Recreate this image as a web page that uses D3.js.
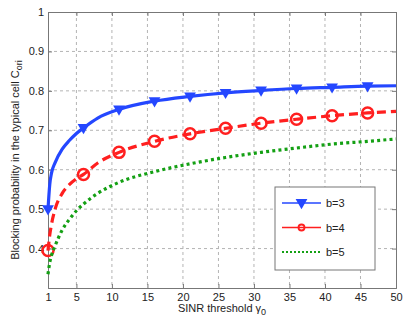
<!DOCTYPE html>
<html>
<head>
<meta charset="utf-8">
<script src="https://cdn.jsdelivr.net/npm/d3@7"></script>
<style>
  body { margin: 0; background: #fff; }
  text { font-family: "Liberation Sans", Arial, sans-serif; fill: #222; }
</style>
</head>
<body>
<svg id="chart" width="409" height="324"></svg>
<script>
'use strict';

// SINR threshold sample points
var gammas = [1, 1.25, 1.5, 2, 3, 4, 5, 6, 8, 11, 16, 21, 26, 31, 36, 41, 46, 50];
var markerGammas = [1, 6, 11, 16, 21, 26, 31, 36, 41, 46];

var b3 = [0.500, 0.563, 0.592, 0.618, 0.652, 0.674, 0.692, 0.706, 0.731, 0.753,
          0.774, 0.786, 0.795, 0.801, 0.806, 0.809, 0.812, 0.813];
var b4 = [0.395, 0.435, 0.462, 0.500, 0.540, 0.562, 0.577, 0.588, 0.617, 0.644,
          0.672, 0.691, 0.705, 0.718, 0.728, 0.737, 0.744, 0.748];
var b5 = [0.335, 0.365, 0.383, 0.407, 0.447, 0.474, 0.496, 0.513, 0.540, 0.568,
          0.595, 0.615, 0.631, 0.644, 0.655, 0.665, 0.672, 0.678];

var xTicks = [1, 5, 10, 15, 20, 25, 30, 35, 40, 45, 50];
var yTicks = [0.4, 0.5, 0.6, 0.7, 0.8, 0.9, 1];
var legendLabels = ['b=3', 'b=4', 'b=5'];

(function() {
  var svg = d3.select('#chart');
  var left = 48, right = 396, plotTop = 12, bottom = 288;

  var x = d3.scaleLinear().domain([1, 50]).range([left, right]);
  var y = d3.scaleLinear().domain([0.3, 1]).range([bottom, plotTop]);

  // grid
  var grid = svg.append('g').attr('class', 'grid');
  grid.selectAll('.gx').data(xTicks.slice(1, -1)).enter().append('line')
    .attr('x1', function(d) { return x(d); })
    .attr('x2', function(d) { return x(d); })
    .attr('y1', plotTop).attr('y2', bottom)
    .attr('stroke', '#b4b4b4').attr('stroke-dasharray', '3,3');
  grid.selectAll('.gy').data(yTicks.slice(0, -1)).enter().append('line')
    .attr('y1', function(d) { return y(d); })
    .attr('y2', function(d) { return y(d); })
    .attr('x1', left).attr('x2', right)
    .attr('stroke', '#b4b4b4').attr('stroke-dasharray', '3,3');

  // axes
  var xAxis = d3.axisBottom(x).tickValues(xTicks).tickSize(-4).tickPadding(5);
  var yAxis = d3.axisLeft(y).tickValues(yTicks).tickSize(-4).tickPadding(4)
    .tickFormat(function(d) { return d === 1 ? '1' : d3.format('.1f')(d); });

  svg.append('g').attr('transform', 'translate(0,' + bottom + ')').call(xAxis);
  svg.append('g').attr('transform', 'translate(' + left + ',0)').call(yAxis);
  svg.append('g').attr('transform', 'translate(0,' + plotTop + ')')
    .call(d3.axisTop(x).tickValues(xTicks).tickSize(-4).tickFormat(''));
  svg.append('g').attr('transform', 'translate(' + right + ',0)')
    .call(d3.axisRight(y).tickValues(yTicks).tickSize(-4).tickFormat(''));

  svg.selectAll('.domain').attr('stroke', '#777');
  svg.selectAll('.tick line').attr('stroke', '#777');
  svg.selectAll('.tick text').style('font-size', '11px').attr('fill', '#222');

  // series
  var series = [
    {values: b3, color: '#2447ff', dash: null, marker: 'tri'},
    {values: b4, color: '#ff1f1f', dash: '9,5', marker: 'circle'},
    {values: b5, color: '#14a014', dash: '3,3.2', marker: null}
  ];

  var line = d3.line()
    .x(function(d) { return x(d[0]); })
    .y(function(d) { return y(d[1]); })
    .curve(d3.curveMonotoneX);

  var tri = d3.symbol().type(d3.symbolTriangle).size(60);

  series.forEach(function(s) {
    var pts = gammas.map(function(g, i) { return [g, s.values[i]]; });
    svg.append('path').datum(pts)
      .attr('d', line)
      .attr('fill', 'none')
      .attr('stroke', s.color)
      .attr('stroke-width', 3.2)
      .attr('stroke-dasharray', s.dash);
    var mpts = pts.filter(function(p) { return markerGammas.indexOf(p[0]) >= 0; });
    if (s.marker === 'tri') {
      svg.selectAll(null).data(mpts).enter().append('path')
        .attr('d', tri)
        .attr('transform', function(d) {
          return 'translate(' + x(d[0]) + ',' + (y(d[1]) - 0.5) + ') rotate(180)';
        })
        .attr('fill', s.color);
    } else if (s.marker === 'circle') {
      svg.selectAll(null).data(mpts).enter().append('circle')
        .attr('cx', function(d) { return x(d[0]); })
        .attr('cy', function(d) { return y(d[1]); })
        .attr('r', 5.5)
        .attr('fill', 'none')
        .attr('stroke', s.color)
        .attr('stroke-width', 2.5);
    }
  });

  // labels
  svg.append('text')
    .attr('x', 222).attr('y', 312)
    .attr('text-anchor', 'middle')
    .style('font-size', '11px')
    .html('SINR threshold <tspan>\u03b3</tspan><tspan dy="3" style="font-size:9px">0</tspan>');

  svg.append('text')
    .attr('transform', 'translate(19,' + 160 + ') rotate(-90)')
    .attr('text-anchor', 'middle')
    .style('font-size', '11px')
    .html('Blocking probability in the typical cell C<tspan dy="3" style="font-size:9px">ori</tspan>');

  // legend
  var lg = svg.append('g').attr('transform', 'translate(275,187)');
  lg.append('rect').attr('width', 100).attr('height', 83)
    .attr('fill', '#fff').attr('stroke', '#777');
  series.forEach(function(s, i) {
    var ly = 16 + i * 24.5;
    lg.append('line')
      .attr('x1', 7).attr('x2', 46).attr('y1', ly).attr('y2', ly)
      .attr('stroke', s.color).attr('stroke-width', s.marker ? 1.5 : 2)
      .attr('stroke-dasharray', s.marker ? null : '2,2');
    if (s.marker === 'tri') {
      lg.append('path').attr('d', tri)
        .attr('transform', 'translate(26.5,' + (ly - 0.5) + ') rotate(180)')
        .attr('fill', s.color);
    } else if (s.marker === 'circle') {
      lg.append('circle').attr('cx', 26.5).attr('cy', ly).attr('r', 3)
        .attr('fill', 'none').attr('stroke', s.color).attr('stroke-width', 1.8);
    }
    lg.append('text').attr('x', 51).attr('y', ly + 4)
      .style('font-size', '11px').text(legendLabels[i]);
  });
})();
</script>
</body>
</html>
